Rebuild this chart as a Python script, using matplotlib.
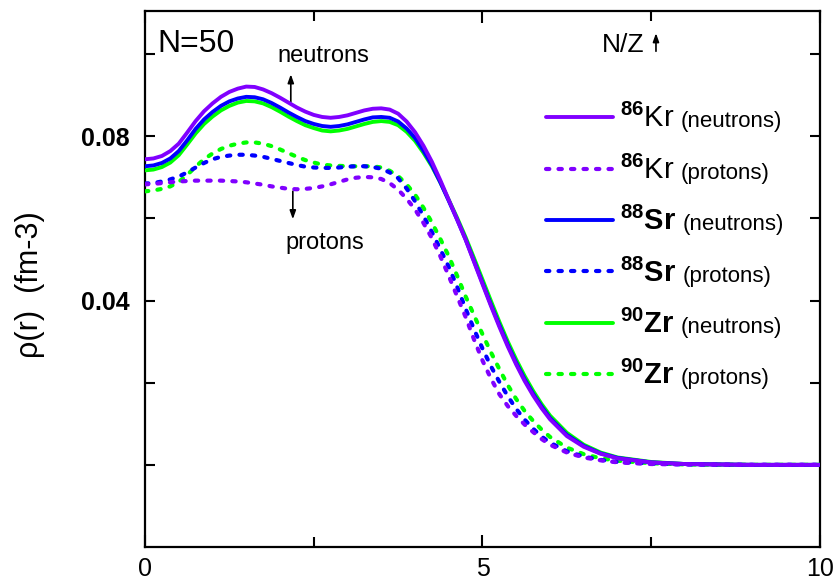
import matplotlib
matplotlib.use("Agg")
import matplotlib.pyplot as plt
from matplotlib.ticker import FixedLocator
from matplotlib.transforms import IdentityTransform

plt.rcParams['font.family'] = ['Liberation Sans', 'DejaVu Sans']
plt.rcParams['mathtext.fontset'] = 'custom'
plt.rcParams['mathtext.rm'] = 'Liberation Sans'
plt.rcParams['mathtext.bf'] = 'Liberation Sans:bold'
plt.rcParams['mathtext.it'] = 'Liberation Sans:italic'

# radius (fm)
r = [0.0, 0.125, 0.25, 0.375, 0.5, 0.625, 0.75, 0.875,
     1.0, 1.125, 1.25, 1.375, 1.5, 1.625, 1.75, 1.875,
     2.0, 2.125, 2.25, 2.375, 2.5, 2.625, 2.75, 2.875,
     3.0, 3.125, 3.25, 3.375, 3.5, 3.625, 3.75, 3.875,
     4.0, 4.125, 4.25, 4.375, 4.5, 4.625, 4.75, 4.875,
     5.0, 5.125, 5.25, 5.375, 5.5, 5.625, 5.75, 5.875,
     6.0, 6.25, 6.5, 6.75, 7.0, 7.5, 8.0, 9.0, 10.0]

# densities (fm^-3)
kr_neutrons = [0.0744, 0.0746, 0.0752, 0.0764, 0.0782, 0.0809, 0.0837, 0.0861,
               0.0880, 0.0896, 0.0908, 0.0916, 0.0921, 0.0920, 0.0914, 0.0905,
               0.0894, 0.0882, 0.0870, 0.0860, 0.0852, 0.0847, 0.0845, 0.0847,
               0.0851, 0.0857, 0.0863, 0.0867, 0.0868, 0.0865, 0.0855, 0.0836,
               0.0810, 0.0777, 0.0738, 0.0693, 0.0645, 0.0597, 0.0548, 0.0494,
               0.0440, 0.0387, 0.0336, 0.0288, 0.0244, 0.0204, 0.0169, 0.0138,
               0.0111, 0.0070, 0.0044, 0.0027, 0.0016, 0.0006, 0.0002, 0.0, 0.0]
kr_protons = [0.0683, 0.0684, 0.0686, 0.0688, 0.0690, 0.0691, 0.0692, 0.0692,
              0.0692, 0.0692, 0.0691, 0.0690, 0.0688, 0.0685, 0.0682, 0.0678,
              0.0675, 0.0672, 0.0671, 0.0672, 0.0674, 0.0678, 0.0683, 0.0689,
              0.0695, 0.0699, 0.0701, 0.0700, 0.0696, 0.0686, 0.0670, 0.0648,
              0.0622, 0.0589, 0.0552, 0.0508, 0.0460, 0.0410, 0.0360, 0.0305,
              0.0254, 0.0210, 0.0172, 0.0143, 0.0119, 0.0098, 0.0080, 0.0063,
              0.0049, 0.0030, 0.0018, 0.0011, 0.0006, 0.0002, 0.0001, 0.0, 0.0]
sr_neutrons = [0.0727, 0.0729, 0.0735, 0.0746, 0.0764, 0.0790, 0.0818, 0.0841,
               0.0859, 0.0874, 0.0885, 0.0892, 0.0896, 0.0895, 0.0890, 0.0881,
               0.0870, 0.0858, 0.0847, 0.0837, 0.0830, 0.0825, 0.0823, 0.0825,
               0.0829, 0.0835, 0.0841, 0.0846, 0.0847, 0.0845, 0.0836, 0.0819,
               0.0796, 0.0765, 0.0730, 0.0688, 0.0643, 0.0597, 0.0549, 0.0496,
               0.0443, 0.0390, 0.0340, 0.0292, 0.0248, 0.0208, 0.0173, 0.0142,
               0.0114, 0.0073, 0.0046, 0.0028, 0.0017, 0.0006, 0.0002, 0.0, 0.0]
sr_protons = [0.0685, 0.0686, 0.0690, 0.0695, 0.0702, 0.0712, 0.0724, 0.0735,
              0.0744, 0.0750, 0.0753, 0.0755, 0.0755, 0.0753, 0.0750, 0.0745,
              0.0740, 0.0735, 0.0730, 0.0726, 0.0724, 0.0723, 0.0723, 0.0724,
              0.0726, 0.0727, 0.0727, 0.0725, 0.0721, 0.0712, 0.0698, 0.0673,
              0.0642, 0.0606, 0.0567, 0.0525, 0.0482, 0.0433, 0.0380, 0.0330,
              0.0283, 0.0240, 0.0202, 0.0167, 0.0136, 0.0110, 0.0088, 0.0069,
              0.0054, 0.0033, 0.0020, 0.0012, 0.0007, 0.0003, 0.0001, 0.0, 0.0]
zr_neutrons = [0.0717, 0.0719, 0.0725, 0.0736, 0.0754, 0.0780, 0.0807, 0.0830,
               0.0848, 0.0863, 0.0874, 0.0882, 0.0886, 0.0885, 0.0880, 0.0871,
               0.0860, 0.0848, 0.0837, 0.0827, 0.0820, 0.0814, 0.0812, 0.0814,
               0.0818, 0.0824, 0.0830, 0.0835, 0.0837, 0.0835, 0.0827, 0.0811,
               0.0789, 0.0760, 0.0727, 0.0688, 0.0645, 0.0601, 0.0554, 0.0503,
               0.0451, 0.0399, 0.0348, 0.0300, 0.0256, 0.0216, 0.0180, 0.0148,
               0.0120, 0.0078, 0.0049, 0.0030, 0.0018, 0.0007, 0.0002, 0.0, 0.0]
zr_protons = [0.0666, 0.0668, 0.0672, 0.0678, 0.0689, 0.0706, 0.0726, 0.0744,
              0.0758, 0.0769, 0.0777, 0.0782, 0.0785, 0.0785, 0.0782, 0.0776,
              0.0768, 0.0759, 0.0750, 0.0742, 0.0736, 0.0731, 0.0729, 0.0728,
              0.0727, 0.0727, 0.0727, 0.0727, 0.0724, 0.0716, 0.0703, 0.0683,
              0.0658, 0.0626, 0.0590, 0.0550, 0.0508, 0.0460, 0.0410, 0.0364,
              0.0318, 0.0274, 0.0233, 0.0194, 0.0160, 0.0131, 0.0107, 0.0086,
              0.0068, 0.0042, 0.0026, 0.0016, 0.0010, 0.0004, 0.0001, 0.0, 0.0]

nuclei = [r"$^{\mathbf{86}}$Kr", r"$^{\mathbf{86}}$Kr",
          r"$^{\mathbf{88}}\mathbf{Sr}$", r"$^{\mathbf{88}}\mathbf{Sr}$",
          r"$^{\mathbf{90}}\mathbf{Zr}$", r"$^{\mathbf{90}}\mathbf{Zr}$"]
kinds = ["(neutrons)", "(protons)", "(neutrons)", "(protons)",
         "(neutrons)", "(protons)"]

x_ticks = [0, 5, 10]
x_minor = [2.5, 7.5]
y_ticks = [0.04, 0.08]
y_tick_labels = ["0.04", "0.08"]
y_minor = [0.0, 0.02, 0.06, 0.10]

purple = "#8000FF"
blue = "#0000FF"
green = "#00FF00"

fig = plt.figure(figsize=(8.37, 5.83), dpi=100)
ax = fig.add_axes([145 / 837, 36 / 583, 675 / 837, 536 / 583])

solid_kw = dict(lw=2.8, solid_capstyle="round", solid_joinstyle="round")
dash_kw = dict(lw=3.0, dashes=(0.8, 2.2), dash_capstyle="round")

series = [
    (kr_neutrons, purple, solid_kw, 6),
    (kr_protons, purple, dash_kw, 6),
    (sr_neutrons, blue, solid_kw, 5),
    (sr_protons, blue, dash_kw, 5),
    (zr_neutrons, green, solid_kw, 4),
    (zr_protons, green, dash_kw, 4),
]
handles = []
for vals, col, kw, z in series:
    h, = ax.plot(r, vals, color=col, zorder=z, **kw)
    handles.append(h)

ax.set_xlim(0, 10)
ax.set_ylim(-0.0200, 0.1105)

ax.xaxis.set_major_locator(FixedLocator(x_ticks))
ax.xaxis.set_minor_locator(FixedLocator(x_minor))
ax.set_xticklabels([str(t) for t in x_ticks])
ax.yaxis.set_major_locator(FixedLocator(y_ticks))
ax.yaxis.set_minor_locator(FixedLocator(y_minor))
ax.set_yticklabels(y_tick_labels, fontweight="bold")

ax.tick_params(which="both", direction="in", top=True, right=True, width=1.5)
ax.tick_params(axis="x", which="major", length=8.5, labelsize=18, pad=7)
ax.tick_params(axis="x", which="minor", length=7)
ax.tick_params(axis="y", which="both", length=7.5, labelsize=18, pad=11)
for s in ax.spines.values():
    s.set_linewidth(1.6)

ax.set_ylabel("ρ(r)  (fm-3)", fontsize=22)
ax.yaxis.set_label_coords(-0.148, 0.49)

ax.text(0.18, 0.1024, "N=50", fontsize=23, ha="left", va="center")
ax.text(2.64, 0.0995, "neutrons", fontsize=17, ha="center", va="center")
ax.text(2.67, 0.0541, "protons", fontsize=17, ha="center", va="center")
ax.text(7.08, 0.1022, "N/Z", fontsize=19, ha="center", va="center")

arrow = dict(arrowstyle="-|>,head_length=0.5,head_width=0.18", color="black", lw=1.2,
             shrinkA=0, shrinkB=0)
ax.annotate("", xy=(2.16, 0.0951), xytext=(2.16, 0.0883), arrowprops=arrow)
ax.annotate("", xy=(2.19, 0.0598), xytext=(2.19, 0.0666), arrowprops=arrow)
ax.annotate("", xy=(7.57, 0.1051), xytext=(7.57, 0.1007), arrowprops=arrow)

leg = ax.legend(handles, nuclei, loc="upper left", bbox_to_anchor=(0.594, 0.826),
                frameon=False, fontsize=21, handlelength=2.3, handletextpad=0.24,
                labelspacing=0.76, borderpad=0, borderaxespad=0)

# append the particle type after each nucleus symbol, on the same baseline
fig.canvas.draw()
renderer = fig.canvas.get_renderer()
for t, kind in zip(leg.get_texts(), kinds):
    bb = t.get_window_extent(renderer)
    prop = t.get_fontproperties()
    _, _, d_text = renderer.get_text_width_height_descent(t.get_text(), prop, ismath=True)
    _, _, d_lp = renderer.get_text_width_height_descent("lp", prop, ismath=False)
    baseline = bb.y0 + max(d_text, d_lp)
    fig.text(bb.x1 + 6, baseline, kind, fontsize=16, ha="left", va="baseline",
             transform=IdentityTransform())

fig.savefig("out.png", dpi=100)
